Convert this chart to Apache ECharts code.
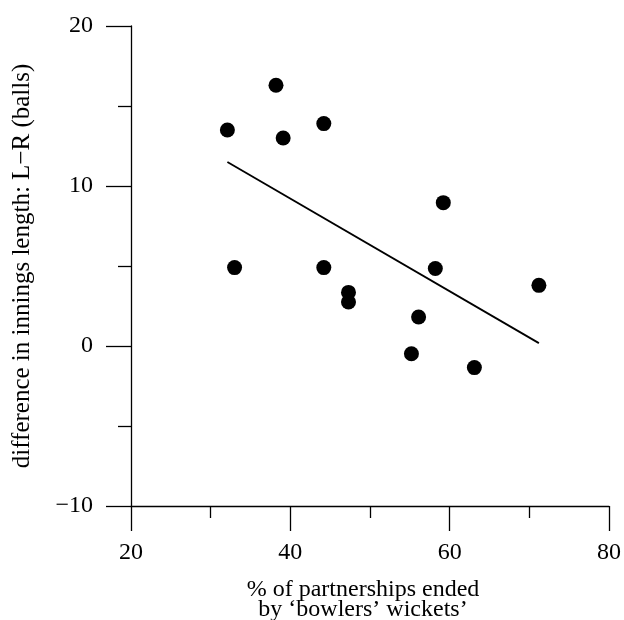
<!DOCTYPE html>
<html>
<head>
<meta charset="utf-8">
<script src="https://cdn.jsdelivr.net/npm/echarts@6/dist/echarts.min.js"></script>
<style>html,body{margin:0;padding:0;background:#fff}#c{width:624px;height:620px}</style>
</head>
<body>
<div id="c"></div>
<script>
const pctBowlersWickets = [32.1, 33.0, 38.2, 39.1, 44.2, 44.2, 47.3, 47.3, 55.2, 56.1, 58.2, 59.2, 63.1, 71.2];
const lengthDiff       = [13.5, 4.9, 16.3, 13.0, 13.9, 4.9, 3.35, 2.75, -0.48, 1.81, 4.84, 8.96, -1.35, 3.79];
const fitLine = [[32.1, 11.5], [71.2, 0.18]];
const xName = '% of partnerships ended\nby \u2018bowlers\u2019 wickets\u2019';
const yName = 'difference in innings length: L\u2212R (balls)';

const font = 'Liberation Serif';
const chart = echarts.init(document.getElementById('c'));
const points = pctBowlersWickets.map((x, i) => [x, lengthDiff[i]]);
chart.setOption({
  animation: false,
  backgroundColor: '#fff',
  grid: { left: 131, top: 26, right: 15, bottom: 114, containLabel: false, outerBoundsMode: 'none' },
  xAxis: {
    type: 'value', min: 20, max: 80, interval: 20,
    axisLine: { onZero: false, lineStyle: { color: '#000', width: 1.3 } },
    axisTick: { show: true, length: 25, lineStyle: { color: '#000', width: 1.3 } },
    minorTick: { show: true, splitNumber: 2, length: 12, lineStyle: { color: '#000', width: 1.3 } },
    splitLine: { show: false },
    axisLabel: { color: '#000', fontFamily: font, fontSize: 24, margin: 35 },
    name: xName, nameLocation: 'middle', nameGap: 74,
    nameTextStyle: { color: '#000', fontFamily: font, fontSize: 24, lineHeight: 20, padding: [0, 14, 0, 0] }
  },
  yAxis: {
    type: 'value', min: -10, max: 20, interval: 10,
    axisLine: { onZero: false, lineStyle: { color: '#000', width: 1.3 } },
    axisTick: { show: true, length: 25, lineStyle: { color: '#000', width: 1.3 } },
    minorTick: { show: true, splitNumber: 2, length: 13, lineStyle: { color: '#000', width: 1.3 } },
    splitLine: { show: false },
    axisLabel: { color: '#000', fontFamily: font, fontSize: 24, margin: 38,
      formatter: v => String(v).replace('-', '\u2212') },
    name: yName, nameLocation: 'middle', nameGap: 96,
    nameTextStyle: { color: '#000', fontFamily: font, fontSize: 25 }
  },
  series: [
    { type: 'scatter', data: points, symbol: 'circle', symbolSize: 15,
      itemStyle: { color: '#000', opacity: 1 } },
    { type: 'line', data: fitLine, symbol: 'none',
      lineStyle: { color: '#000', width: 1.8 } }
  ]
});
</script>
</body>
</html>
